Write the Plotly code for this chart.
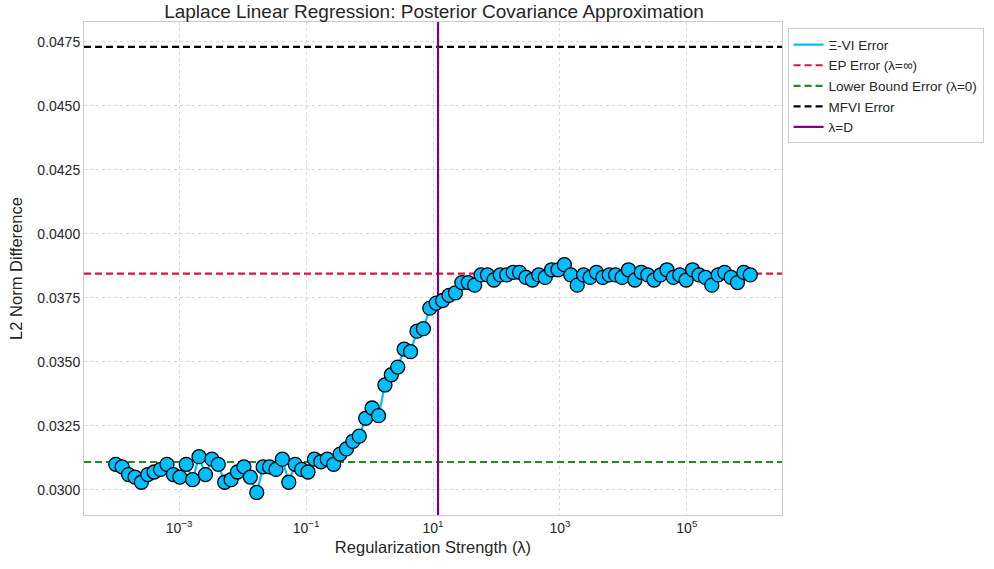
import numpy as np
import plotly.graph_objects as go

# ---- data ----
lambdas = np.logspace(-4, 6, 100)
xi_vi_error = [
    0.0310, 0.0309, 0.0306, 0.0305, 0.0303, 0.0306, 0.0307, 0.0308, 0.0310, 0.0306,
    0.0305, 0.0310, 0.0304, 0.0313, 0.0306, 0.0312, 0.0310, 0.0303, 0.0304, 0.0307,
    0.0309, 0.0305, 0.0299, 0.0309, 0.0309, 0.0308, 0.0312, 0.0303, 0.0310, 0.0308,
    0.0307, 0.0312, 0.0311, 0.0312, 0.0310, 0.0314, 0.0316, 0.0319, 0.0321, 0.0328,
    0.0332, 0.0329, 0.0341, 0.0345, 0.0348, 0.0355, 0.0354, 0.0362, 0.0363, 0.0371,
    0.0373, 0.0374, 0.0376, 0.0377, 0.0381, 0.0381, 0.0380, 0.0384, 0.0384, 0.0382,
    0.0384, 0.0384, 0.0385, 0.0385, 0.0383, 0.0382, 0.0384, 0.0383, 0.0386, 0.0386,
    0.0388, 0.0384, 0.0380, 0.0384, 0.0383, 0.0385, 0.0383, 0.0384, 0.0384, 0.0383,
    0.0386, 0.0382, 0.0385, 0.0384, 0.0382, 0.0384, 0.0386, 0.0383, 0.0384, 0.0382,
    0.0386, 0.0384, 0.0383, 0.0380, 0.0384, 0.0385, 0.0383, 0.0381, 0.0385, 0.0384,
]
ep_error = 0.03845
lower_bound_error = 0.03109
mfvi_error = 0.04731
lambda_D = 12

x_range_log = [-4.5, 6.5]
y_range = [0.02902, 0.04828]
x_tick_vals = [1e-3, 1e-1, 1e1, 1e3, 1e5]
x_tick_text = ["10<sup>−3</sup>", "10<sup>−1</sup>", "10<sup>1</sup>", "10<sup>3</sup>", "10<sup>5</sup>"]
y_tick_vals = [0.0300, 0.0325, 0.0350, 0.0375, 0.0400, 0.0425, 0.0450, 0.0475]

FONT = "Arial, Liberation Sans, sans-serif"
xspan = [10 ** x_range_log[0], 10 ** x_range_log[1]]
DASH = "7px,4px"

fig = go.Figure()

fig.add_trace(go.Scatter(x=[None], y=[None], mode="lines",
                         line=dict(color="#00BFFF", width=2.2), name="Ξ-VI Error"))
fig.add_trace(go.Scatter(x=xspan, y=[ep_error] * 2, mode="lines",
                         line=dict(color="#DC143C", width=2.2, dash=DASH), name="EP Error (λ=∞)"))
fig.add_trace(go.Scatter(x=xspan, y=[lower_bound_error] * 2, mode="lines",
                         line=dict(color="#228B22", width=2.2, dash=DASH), name="Lower Bound Error (λ=0)"))
fig.add_trace(go.Scatter(x=xspan, y=[mfvi_error] * 2, mode="lines",
                         line=dict(color="black", width=2.2, dash=DASH), name="MFVI Error"))
fig.add_trace(go.Scatter(x=[lambda_D] * 2, y=y_range, mode="lines",
                         line=dict(color="#800080", width=2.2), name="λ=D"))
# main data drawn on top
fig.add_trace(go.Scatter(
    x=lambdas, y=xi_vi_error, mode="lines+markers",
    line=dict(color="#00BFFF", width=2.2),
    marker=dict(size=14, color="#00BFFF", line=dict(color="black", width=1.3)),
    showlegend=False, name="Ξ-VI Error",
))

fig.update_layout(
    width=994, height=569,
    margin=dict(l=84, r=212, t=22, b=54, autoexpand=False),
    paper_bgcolor="white", plot_bgcolor="white",
    font=dict(family=FONT, color="#262626", size=14),
    title=dict(text="Laplace Linear Regression: Posterior Covariance Approximation",
               x=434 / 994, xanchor="center", y=1 - 11 / 569, yanchor="middle",
               font=dict(size=19, color="#262626")),
    legend=dict(x=1.008, y=0.987, xanchor="left", yanchor="top",
                bordercolor="#cccccc", borderwidth=1, bgcolor="white",
                font=dict(size=13.5, color="#262626"), tracegroupgap=0),
    showlegend=True,
)
fig.update_xaxes(
    type="log", range=x_range_log,
    tickvals=x_tick_vals, ticktext=x_tick_text, automargin=False,
    showgrid=True, gridcolor="#d9d9d9", griddash="dot", gridwidth=1,
    showline=True, linecolor="#cccccc", linewidth=1, mirror=True,
    zeroline=False, ticks="", tickfont=dict(size=14),
    title=dict(text="Regularization Strength (λ)", font=dict(size=16.5), standoff=6),
)
fig.update_yaxes(
    range=y_range, tickvals=y_tick_vals, tickformat=".4f", automargin=False,
    showgrid=True, gridcolor="#d9d9d9", griddash="dot", gridwidth=1,
    showline=True, linecolor="#cccccc", linewidth=1, mirror=True,
    zeroline=False, ticks="", tickfont=dict(size=14),
    title=dict(text="L2 Norm Difference", font=dict(size=16.5), standoff=10),
)

# remove the browser's default 8px body margin so the figure fills the window
fig.write_html("out.html", config={"displayModeBar": False},
               post_script="document.body.style.margin='0';")
